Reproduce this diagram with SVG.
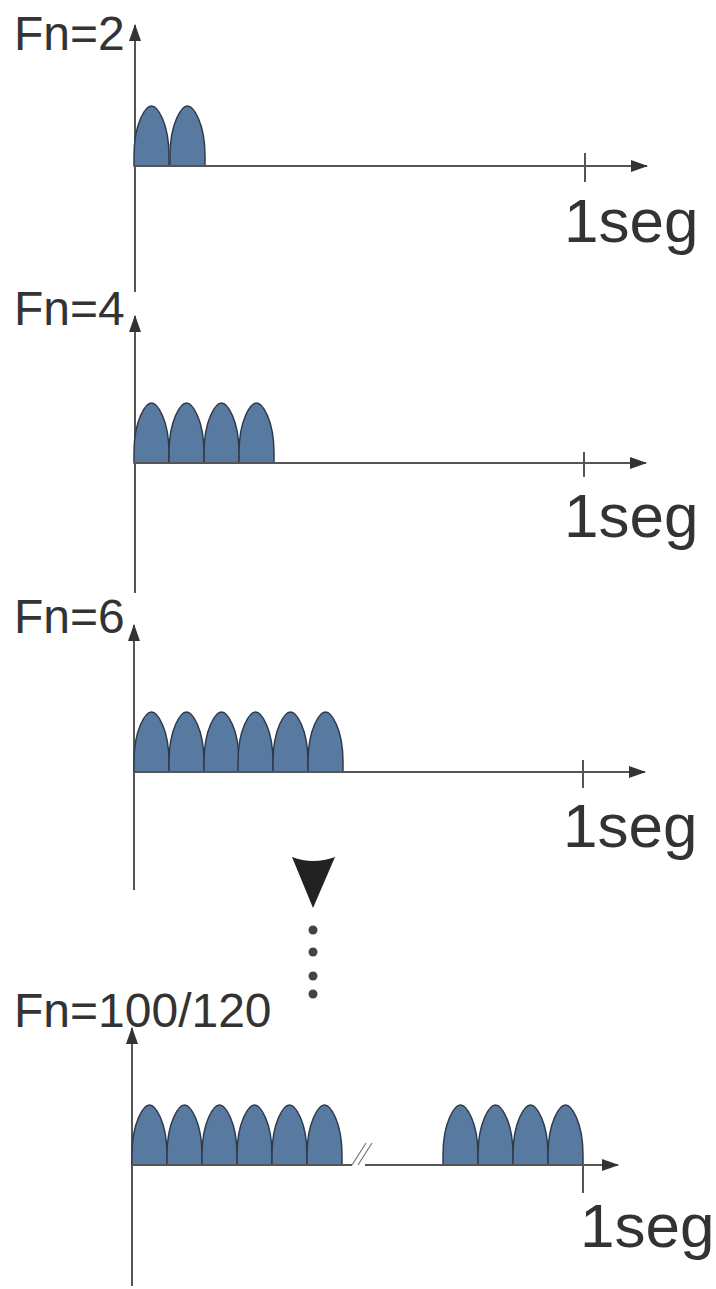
<svg xmlns="http://www.w3.org/2000/svg" width="716" height="1289" viewBox="0 0 716 1289">
<defs>
<style>
.ax{stroke:#555;stroke-width:2;fill:none}
.bump{fill:#587aa0;stroke:#2f3b4c;stroke-width:1.5}
.lbl{font-family:"Liberation Sans",Arial,sans-serif;font-size:48px;fill:#333}
.seg{font-family:"Liberation Sans",Arial,sans-serif;font-size:62px;fill:#333}
.head{fill:#333}
</style>
<marker id="arr" viewBox="0 0 17 12" refX="16" refY="6" markerWidth="17" markerHeight="12" markerUnits="userSpaceOnUse" orient="auto">
<path d="M0,0 L17,6 L0,12 Z" class="head"/>
</marker>
<path id="b" d="M0,0 L0,-10 C0,-44 12,-60 17.5,-60 C23,-60 35,-44 35,-10 L35,0 Z"/>
</defs>
<rect width="716" height="1289" fill="#fff"/>

<g id="panel1">
<text class="lbl" x="14" y="50">Fn=2</text>
<line class="ax" x1="135" y1="292" x2="135" y2="25" marker-end="url(#arr)"/>
<g class="bump" transform="translate(0,166)">
<use href="#b" x="134"/><use href="#b" x="170"/>
</g>
<line class="ax" x1="134" y1="166" x2="647" y2="166" marker-end="url(#arr)"/>
<line class="ax" x1="585" y1="153" x2="585" y2="182"/>
<text class="seg" x="564" y="242">1seg</text>
</g>

<g id="panel2">
<text class="lbl" x="14" y="325">Fn=4</text>
<line class="ax" x1="135" y1="593" x2="135" y2="316" marker-end="url(#arr)"/>
<g class="bump" transform="translate(0,463)">
<use href="#b" x="134"/><use href="#b" x="169"/><use href="#b" x="204"/><use href="#b" x="239"/>
</g>
<line class="ax" x1="134" y1="463" x2="646" y2="463" marker-end="url(#arr)"/>
<line class="ax" x1="584" y1="452" x2="584" y2="477"/>
<text class="seg" x="564" y="537">1seg</text>
</g>

<g id="panel3">
<text class="lbl" x="14" y="633">Fn=6</text>
<line class="ax" x1="134" y1="890" x2="134" y2="625" marker-end="url(#arr)"/>
<g class="bump" transform="translate(0,772)">
<use href="#b" x="134"/><use href="#b" x="169"/><use href="#b" x="204"/><use href="#b" x="238"/><use href="#b" x="273"/><use href="#b" x="308"/>
</g>
<line class="ax" x1="134" y1="772" x2="645" y2="772" marker-end="url(#arr)"/>
<line class="ax" x1="583" y1="760" x2="583" y2="788"/>
<text class="seg" x="563" y="847">1seg</text>
</g>

<g id="ellipsis">
<path d="M292,857 Q313,865 335,857 L313,908 Z" fill="#222"/>
<g fill="#444">
<circle cx="313" cy="930" r="4.5"/><circle cx="313" cy="952" r="4.5"/><circle cx="313" cy="976" r="4.5"/><circle cx="313" cy="994" r="4.5"/>
</g>
</g>

<g id="panel4">
<text class="lbl" x="14" y="1027">Fn=100/120</text>
<line class="ax" x1="132" y1="1286" x2="132" y2="1028" marker-end="url(#arr)"/>
<g class="bump" transform="translate(0,1165)">
<use href="#b" x="132"/><use href="#b" x="167"/><use href="#b" x="202"/><use href="#b" x="237"/><use href="#b" x="272"/><use href="#b" x="307"/>
<use href="#b" x="443"/><use href="#b" x="478"/><use href="#b" x="513"/><use href="#b" x="548"/>
</g>
<line class="ax" x1="132" y1="1165" x2="352" y2="1165"/>
<line class="ax" x1="365" y1="1165" x2="618" y2="1165" marker-end="url(#arr)"/>
<line x1="352" y1="1165" x2="366" y2="1143" stroke="#777" stroke-width="1.2"/>
<line x1="358" y1="1165" x2="372" y2="1143" stroke="#777" stroke-width="1.2"/>
<line class="ax" x1="583" y1="1165" x2="583" y2="1193"/>
<text class="seg" x="580" y="1247">1seg</text>
</g>
</svg>
